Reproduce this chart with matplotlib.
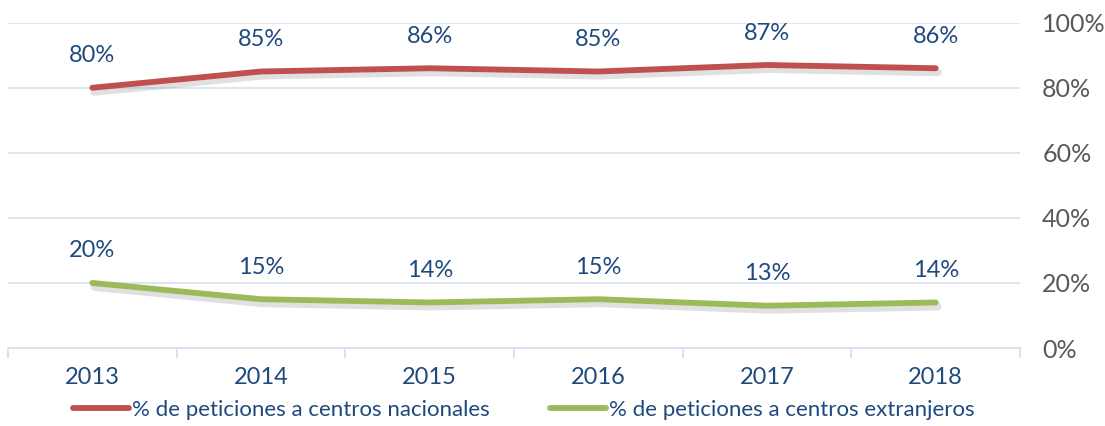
import matplotlib
matplotlib.use("Agg")
import matplotlib.pyplot as plt
import matplotlib.patheffects as pe
from matplotlib.lines import Line2D

years = ["2013", "2014", "2015", "2016", "2017", "2018"]
nacionales = [80, 85, 86, 85, 87, 86]
extranjeros = [20, 15, 14, 15, 13, 14]
yticks = [0, 20, 40, 60, 80, 100]
series_names = ["% de peticiones a centros nacionales", "% de peticiones a centros extranjeros"]

plt.rcParams['font.family'] = ['Lato', 'DejaVu Sans']
FS = 17
label_col = '#1F497D'
grid_col = '#D6E0EE'
red = '#C0504D'
green = '#9BBB59'

fig = plt.figure(figsize=(11.05, 4.26), dpi=100)
ax = fig.add_axes([8/1105, 1-348/426, (1020-8)/1105, (348-22.7)/426])

x = list(range(len(years)))
shadow = [pe.SimpleLineShadow(offset=(1.5, -3), shadow_color='#999999', alpha=0.3, linewidth=5.5), pe.Normal()]
ax.plot(x, nacionales, color=red, lw=4.2, solid_capstyle='round', path_effects=shadow, zorder=3)
ax.plot(x, extranjeros, color=green, lw=4.2, solid_capstyle='round', path_effects=shadow, zorder=3)

for xi, v in zip(x, nacionales):
    ax.annotate(f"{v}%", (xi, v), xytext=(0, 23), textcoords='offset points',
                ha='center', va='center', fontsize=FS, color=label_col)
for xi, v in zip(x, extranjeros):
    ax.annotate(f"{v}%", (xi, v), xytext=(0, 23), textcoords='offset points',
                ha='center', va='center', fontsize=FS, color=label_col)

ax.set_xlim(-0.5, len(years) - 0.5)
ax.set_ylim(0, 100)
ax.set_yticks(yticks)
ax.set_yticklabels([f"{t}%" for t in yticks])
ax.yaxis.tick_right()
ax.tick_params(axis='y', length=0, pad=16, labelsize=18, labelcolor='#595959')
ax.set_xticks(x)
ax.set_xticklabels(years)
ax.tick_params(axis='x', which='major', length=0, pad=14, labelsize=FS, labelcolor=label_col)
ax.set_xticks([i - 0.5 for i in range(len(years) + 1)], minor=True)
ax.tick_params(axis='x', which='minor', length=7, width=1.3, color=grid_col, direction='out')

for t in yticks[1:]:
    ax.axhline(t, color=grid_col, lw=1.2, zorder=1)
for s in ['top', 'left', 'right']:
    ax.spines[s].set_visible(False)
ax.spines['bottom'].set_color(grid_col)
ax.spines['bottom'].set_linewidth(1.3)

handles = [Line2D([], [], color=red, lw=4.2, solid_capstyle='round'),
           Line2D([], [], color=green, lw=4.2, solid_capstyle='round')]
leg = fig.legend(handles, series_names, loc='center', bbox_to_anchor=(524/1105, 1-410/426),
                 ncol=2, frameon=False, fontsize=16, handlelength=2.5, handletextpad=0.15,
                 columnspacing=2.7)
for t in leg.get_texts():
    t.set_color(label_col)

fig.savefig("out.png", dpi=100)
